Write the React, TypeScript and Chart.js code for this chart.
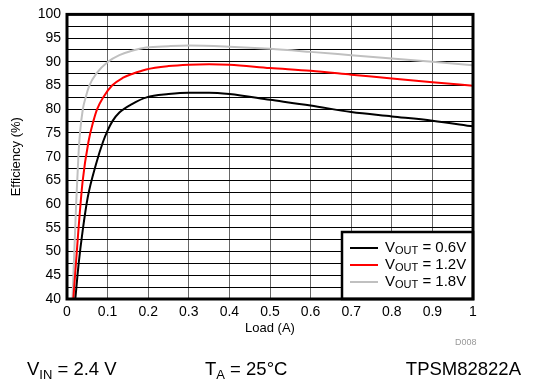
import React, { useEffect, useRef } from "react";
import { Chart, registerables } from "chart.js";

Chart.register(...registerables);

const FONT = "'Liberation Sans', Arial, Helvetica, sans-serif";

// Series data (Load in A, Efficiency in %)
const loadV06 = [0.0205, 0.0288, 0.0386, 0.051, 0.0714, 0.089, 0.1, 0.112, 0.129, 0.16, 0.196, 0.25, 0.3, 0.35, 0.4, 0.5, 0.6, 0.7, 0.8, 0.9, 1.0];
const effV06 = [40, 47.5, 54.4, 61.4, 68.4, 73.2, 75.5, 77.5, 79.3, 81.1, 82.5, 83.2, 83.5, 83.5, 83.2, 82.0, 80.8, 79.4, 78.5, 77.6, 76.4];

const loadV12 = [0.0156, 0.028, 0.0386, 0.053, 0.065, 0.074, 0.089, 0.111, 0.137, 0.162, 0.195, 0.25, 0.3, 0.35, 0.4, 0.5, 0.6, 0.7, 0.8, 0.9, 1.0];
const effV12 = [40, 54.4, 64.9, 73.2, 77.5, 80, 82.5, 85, 86.6, 87.5, 88.4, 89.1, 89.4, 89.5, 89.4, 88.7, 88.1, 87.3, 86.5, 85.7, 84.95];

const loadV18 = [0.0135, 0.018, 0.0225, 0.028, 0.032, 0.039, 0.046, 0.055, 0.072, 0.101, 0.129, 0.162, 0.195, 0.25, 0.3, 0.4, 0.5, 0.6, 0.7, 0.8, 0.9, 1.0];
const effV18 = [40, 50, 60, 70, 75, 80, 82.5, 85, 87.5, 90, 91.4, 92.4, 93.0, 93.3, 93.45, 93.2, 92.75, 92.1, 91.4, 90.7, 90.0, 89.3];

const seriesNames = ["0.6V", "1.2V", "1.8V"];
const seriesColors = ["#000000", "#ff0000", "#c0c0c0"];

const xTitle = "Load (A)";
const yTitle = "Efficiency (%)";
const footVin = "2.4 V";
const footTa = "25°C";
const footPart = "TPSM82822A";
const figId = "D008";

function pts(xs: number[], ys: number[]) {
  return xs.map((x, i) => ({ x, y: ys[i] }));
}

function drawSub(ctx: CanvasRenderingContext2D, x: number, y: number, main: string, sub: string, rest: string, size: number, subSize: number, subDy: number) {
  ctx.font = `${size}px ${FONT}`;
  ctx.fillText(main, x, y);
  x += ctx.measureText(main).width;
  ctx.font = `${subSize}px ${FONT}`;
  ctx.fillText(sub, x, y + subDy);
  x += ctx.measureText(sub).width;
  ctx.font = `${size}px ${FONT}`;
  ctx.fillText(rest, x, y);
}

const decorPlugin = {
  id: "decor",
  afterDatasetsDraw(chart: any) {
    const ctx = chart.ctx as CanvasRenderingContext2D;
    const a = chart.chartArea;
    // legend box
    const bx = 342, by = 232;
    const bw = a.right - bx, bh = a.bottom - by;
    ctx.save();
    ctx.fillStyle = "#ffffff";
    ctx.fillRect(bx, by, bw, bh);
    ctx.strokeStyle = "#000";
    ctx.lineWidth = 2.5;
    ctx.strokeRect(bx, by, bw, bh);
    seriesNames.forEach((n, i) => {
      const ly = 248 + i * 17;
      ctx.strokeStyle = seriesColors[i];
      ctx.lineWidth = 2;
      ctx.beginPath();
      ctx.moveTo(350, ly);
      ctx.lineTo(378, ly);
      ctx.stroke();
      ctx.fillStyle = "#000";
      ctx.textBaseline = "middle";
      ctx.textAlign = "left";
      drawSub(ctx, 385, ly, "V", "OUT", " = " + n, 15, 11, 3);
    });
    ctx.restore();
  },
  afterDraw(chart: any) {
    const ctx = chart.ctx as CanvasRenderingContext2D;
    const a = chart.chartArea;
    ctx.save();
    // frame
    ctx.strokeStyle = "#000";
    ctx.lineWidth = 3;
    ctx.strokeRect(a.left, a.top, a.right - a.left, a.bottom - a.top);
    // axis titles
    ctx.fillStyle = "#000";
    ctx.textAlign = "center";
    ctx.textBaseline = "middle";
    ctx.font = `13px ${FONT}`;
    ctx.fillText(xTitle, (a.left + a.right) / 2, 328);
    ctx.save();
    ctx.translate(16, (a.top + a.bottom) / 2);
    ctx.rotate(-Math.PI / 2);
    ctx.fillText(yTitle, 0, 0);
    ctx.restore();
    // figure id
    ctx.font = `9px ${FONT}`;
    ctx.fillStyle = "#999";
    ctx.textAlign = "left";
    ctx.fillText(figId, 455, 343);
    // footer
    ctx.fillStyle = "#000";
    ctx.textBaseline = "alphabetic";
    drawSub(ctx, 27, 375, "V", "IN", " = " + footVin, 18.5, 13, 4);
    drawSub(ctx, 205, 375, "T", "A", " = " + footTa, 18.5, 13, 4);
    ctx.font = `18.5px ${FONT}`;
    ctx.textAlign = "right";
    ctx.fillText(footPart, 521, 375);
    ctx.restore();
  },
};

export default function App() {
  const ref = useRef<HTMLCanvasElement | null>(null);
  useEffect(() => {
    if (!ref.current) return;
    Chart.defaults.font.family = FONT;
    const chart = new Chart(ref.current, {
      type: "line",
      data: {
        datasets: [
          { label: seriesNames[0], data: pts(loadV06, effV06), borderColor: seriesColors[0] },
          { label: seriesNames[1], data: pts(loadV12, effV12), borderColor: seriesColors[1] },
          { label: seriesNames[2], data: pts(loadV18, effV18), borderColor: seriesColors[2] },
        ].map((d) => ({
          ...d,
          borderWidth: 2,
          pointRadius: 0,
          fill: false,
          cubicInterpolationMode: "monotone" as const,
        })),
      },
      options: {
        responsive: false,
        animation: false,
        layout: { padding: { left: 0, top: 12, right: 74, bottom: 0 } },
        plugins: { legend: { display: false }, tooltip: { enabled: false } },
        scales: {
          x: {
            type: "linear",
            min: 0,
            max: 1,
            afterFit: (s: any) => {
              s.height = 88;
            },
            ticks: {
              stepSize: 0.1,
              color: "#000",
              font: { size: 14 },
              padding: 5,
              maxRotation: 0,
              callback: (v: any) => String(parseFloat(Number(v).toFixed(2))),
            },
            grid: { color: "#666", lineWidth: 1, drawTicks: false },
            border: { display: false },
          },
          y: {
            type: "linear",
            min: 40,
            max: 100,
            afterFit: (s: any) => {
              s.width = 67;
            },
            ticks: {
              stepSize: 2.5,
              color: "#000",
              font: { size: 14 },
              padding: 6,
              autoSkip: false,
              callback: (v: any) => (Math.abs(Number(v) % 5) < 1e-6 ? String(Math.round(Number(v))) : ""),
            },
            grid: { color: "#000", lineWidth: 1, drawTicks: false },
            border: { display: false },
          },
        },
      },
      plugins: [decorPlugin],
    });
    return () => chart.destroy();
  }, []);
  return (
    <div style={{ position: "absolute", left: 0, top: 0, width: 547, height: 387, background: "#fff" }}>
      <canvas ref={ref} width={547} height={387} />
    </div>
  );
}
